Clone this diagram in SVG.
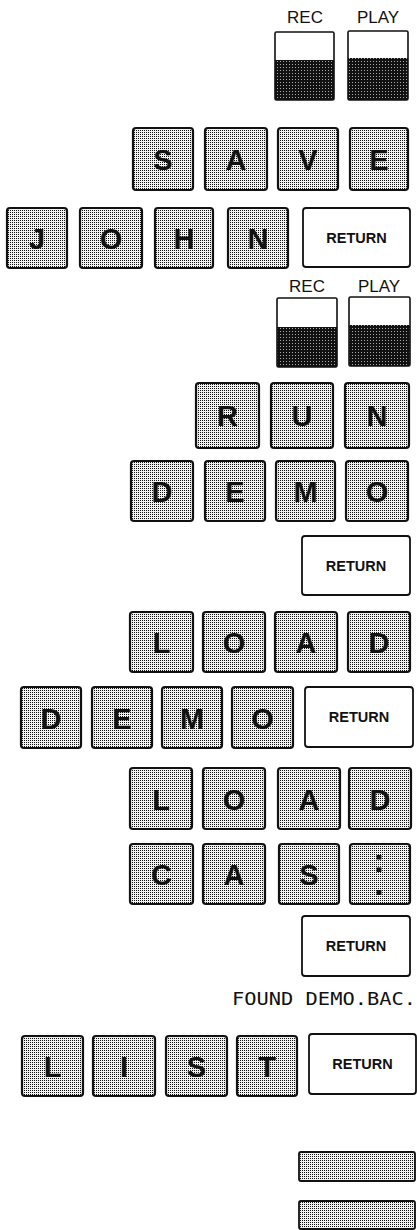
<svg xmlns="http://www.w3.org/2000/svg" width="417" height="1230" viewBox="0 0 417 1230">
<defs>
<pattern id="stip" width="2" height="2" patternUnits="userSpaceOnUse">
<rect width="2" height="2" fill="#f2f2f2"/>
<rect width="1" height="1" fill="#111"/>
</pattern>
<pattern id="dark" width="3" height="3" patternUnits="userSpaceOnUse">
<rect width="3" height="3" fill="#111"/>
<rect x="1" y="1" width="1" height="1" fill="#aaa"/>
</pattern>
<style>
.k{fill:url(#stip);stroke:#111;stroke-width:2.2}
.r{fill:#fff;stroke:#111;stroke-width:1.8}
.d{fill:url(#dark)}
.w{fill:#fff}
.o{fill:none;stroke:#111;stroke-width:1.6}
.t{font-family:"Liberation Sans",Arial,sans-serif;font-weight:bold;font-size:29px;fill:#111;text-anchor:middle}
.rt{font-family:"Liberation Sans",Arial,sans-serif;font-weight:bold;font-size:14.5px;fill:#111;text-anchor:middle}
.lb{font-family:"Liberation Sans",Arial,sans-serif;font-size:17px;fill:#111;text-anchor:middle}
.m{font-family:"DejaVu Sans Mono",monospace;font-size:18px;fill:#111}
</style>
</defs>

<g id="recplay1">
<text class="lb" x="305" y="23">REC</text>
<text class="lb" x="378" y="23">PLAY</text>
<rect class="d" x="275" y="60" width="59" height="40"/>
<rect class="w" x="275" y="32" width="59" height="28"/>
<rect class="o" x="275" y="32" width="59" height="68" rx="1.5"/>
<rect class="d" x="348" y="58" width="60" height="42"/>
<rect class="w" x="348" y="31" width="60" height="27"/>
<rect class="o" x="348" y="31" width="60" height="69" rx="1.5"/>
</g>

<g id="row-save">
<rect class="k" x="133" y="128" width="60" height="62" rx="3"/><text class="t" x="163" y="169.5">S</text>
<rect class="k" x="205" y="128" width="62" height="62" rx="3"/><text class="t" x="236" y="169.5">A</text>
<rect class="k" x="278" y="128" width="60" height="62" rx="3"/><text class="t" x="308" y="169.5">V</text>
<rect class="k" x="350" y="128" width="58" height="62" rx="3"/><text class="t" x="379" y="169.5">E</text>
</g>

<g id="row-john">
<rect class="k" x="7" y="208" width="60" height="60" rx="3"/><text class="t" x="37" y="248.5">J</text>
<rect class="k" x="80" y="208" width="62" height="60" rx="3"/><text class="t" x="111" y="248.5">O</text>
<rect class="k" x="155" y="208" width="58" height="60" rx="3"/><text class="t" x="184" y="248.5">H</text>
<rect class="k" x="228" y="208" width="60" height="60" rx="3"/><text class="t" x="258" y="248.5">N</text>
<rect class="r" x="303" y="208" width="107" height="59" rx="3"/><text class="rt" x="356.5" y="243">RETURN</text>
</g>

<g id="recplay2">
<text class="lb" x="307" y="292">REC</text>
<text class="lb" x="379" y="292">PLAY</text>
<rect class="d" x="277" y="327" width="60" height="40"/>
<rect class="w" x="277" y="298" width="60" height="29"/>
<rect class="o" x="277" y="298" width="60" height="69" rx="1.5"/>
<rect class="d" x="349" y="325" width="61" height="41"/>
<rect class="w" x="349" y="297" width="61" height="28"/>
<rect class="o" x="349" y="297" width="61" height="69" rx="1.5"/>
</g>

<g id="row-run">
<rect class="k" x="196" y="383" width="63" height="65" rx="3"/><text class="t" x="227.5" y="425.5">R</text>
<rect class="k" x="271" y="383" width="62" height="65" rx="3"/><text class="t" x="302" y="425.5">U</text>
<rect class="k" x="345" y="383" width="64" height="65" rx="3"/><text class="t" x="377" y="425.5">N</text>
</g>

<g id="row-demo1">
<rect class="k" x="131" y="461" width="62" height="60" rx="3"/><text class="t" x="162" y="501.5">D</text>
<rect class="k" x="205" y="461" width="60" height="60" rx="3"/><text class="t" x="235" y="501.5">E</text>
<rect class="k" x="276" y="461" width="59" height="60" rx="3"/><text class="t" x="305.5" y="501.5">M</text>
<rect class="k" x="346" y="461" width="62" height="60" rx="3"/><text class="t" x="377" y="501.5">O</text>
</g>

<g id="return-1">
<rect class="r" x="302" y="536" width="108" height="59" rx="3"/><text class="rt" x="356" y="571">RETURN</text>
</g>

<g id="row-load1">
<rect class="k" x="130" y="612" width="63" height="60" rx="3"/><text class="t" x="161.5" y="652.5">L</text>
<rect class="k" x="203" y="612" width="62" height="60" rx="3"/><text class="t" x="234" y="652.5">O</text>
<rect class="k" x="275" y="612" width="62" height="60" rx="3"/><text class="t" x="306" y="652.5">A</text>
<rect class="k" x="348" y="612" width="62" height="60" rx="3"/><text class="t" x="379" y="652.5">D</text>
</g>

<g id="row-demo2">
<rect class="k" x="21" y="687" width="60" height="61" rx="3"/><text class="t" x="51" y="728.5">D</text>
<rect class="k" x="92" y="687" width="60" height="61" rx="3"/><text class="t" x="122" y="728.5">E</text>
<rect class="k" x="162" y="687" width="60" height="61" rx="3"/><text class="t" x="192" y="728.5">M</text>
<rect class="k" x="232" y="687" width="61" height="61" rx="3"/><text class="t" x="262.5" y="728.5">O</text>
<rect class="r" x="305" y="687" width="108" height="60" rx="3"/><text class="rt" x="359" y="722">RETURN</text>
</g>

<g id="row-load2">
<rect class="k" x="130" y="768" width="62" height="61" rx="3"/><text class="t" x="161" y="809.5">L</text>
<rect class="k" x="203" y="768" width="62" height="61" rx="3"/><text class="t" x="234" y="809.5">O</text>
<rect class="k" x="278" y="768" width="62" height="61" rx="3"/><text class="t" x="309" y="809.5">A</text>
<rect class="k" x="349" y="768" width="62" height="61" rx="3"/><text class="t" x="380" y="809.5">D</text>
</g>

<g id="row-cas">
<rect class="k" x="130" y="844" width="63" height="60" rx="3"/><text class="t" x="161.5" y="884.5">C</text>
<rect class="k" x="203" y="844" width="62" height="60" rx="3"/><text class="t" x="234" y="884.5">A</text>
<rect class="k" x="279" y="844" width="60" height="60" rx="3"/><text class="t" x="309" y="884.5">S</text>
<rect class="k" x="350" y="844" width="60" height="60" rx="3"/>
<text class="t" x="379" y="871.5" style="font-size:34px"><tspan>:</tspan><tspan x="379" y="894.5">.</tspan></text>
</g>

<g id="return-2">
<rect class="r" x="302" y="916" width="108" height="60" rx="3"/><text class="rt" x="356" y="951">RETURN</text>
</g>

<g id="found-text">
<text class="m" x="232" y="1005" textLength="184" lengthAdjust="spacingAndGlyphs">FOUND DEMO.BAC.</text>
</g>

<g id="row-list">
<rect class="k" x="22" y="1036" width="61" height="60" rx="3"/><text class="t" x="52.5" y="1076.5">L</text>
<rect class="k" x="93" y="1036" width="62" height="60" rx="3"/><text class="t" x="124" y="1076.5">I</text>
<rect class="k" x="166" y="1036" width="61" height="60" rx="3"/><text class="t" x="196.5" y="1076.5">S</text>
<rect class="k" x="237" y="1036" width="60" height="60" rx="3"/><text class="t" x="267" y="1076.5">T</text>
<rect class="r" x="309" y="1034" width="107" height="60" rx="3"/><text class="rt" x="362.5" y="1069">RETURN</text>
</g>

<g id="bar-1">
<rect class="k" x="299" y="1152" width="116" height="29" rx="2" style="stroke-width:1.8"/>
</g>
<g id="bar-2">
<rect class="k" x="299" y="1201" width="116" height="28" rx="2" style="stroke-width:1.8"/>
</g>
</svg>
